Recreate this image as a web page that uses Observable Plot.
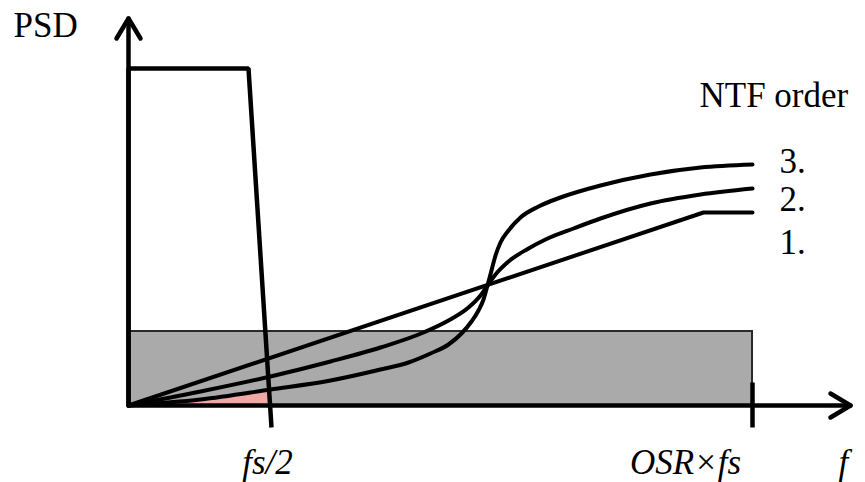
<!DOCTYPE html>
<html>
<head>
<meta charset="utf-8">
<script src="https://cdn.jsdelivr.net/npm/d3@7"></script>
<script src="https://cdn.jsdelivr.net/npm/@observablehq/plot@0.6"></script>
<style>
  html, body { margin: 0; padding: 0; background: #fff; }
  #chart svg { display: block; }
</style>
</head>
<body>
<div id="chart"></div>
<script>
// ---- schematic values (frequency units f, PSD units p; origin at axes crossing) ----
const fsHalf = 142;          // fs/2
const osrFs = 624;           // OSR×fs
const noiseFloor = 74;       // quantisation-noise floor level
const fMax = 722;            // end of f axis
const psdMax = 387;          // end of PSD axis

// signal band
const signalF   = [0, 0, 120, 143];
const signalPSD = [0, 337, 337, -22];

// NTF curves
const ntf1F   = [0, 575, 624];
const ntf1PSD = [0, 193, 193];
const ntf2F   = [0, 72, 142, 202, 252, 295, 320, 340, 352, 359, 367, 380, 400, 417, 445, 472, 522, 572, 624];
const ntf2PSD = [0, 14, 29, 44, 58, 73, 85, 98, 110, 120, 131, 144, 157, 166, 177, 187, 202, 211, 217];
const ntf3F   = [0, 72, 142, 202, 252, 280, 302, 320, 333, 343, 350, 355, 359, 363, 367, 372, 380, 392, 410, 432, 472, 522, 572, 624];
const ntf3PSD = [0, 6, 16, 25, 36, 43, 52, 61, 72, 84, 95, 106, 120, 135, 150, 163, 175, 188, 199, 208, 220, 231, 238, 241];

// labels
const orderLabels   = ["3.", "2.", "1."];
const orderLabelPSD = [233, 195, 152];
const xTickLabels   = ["fs/2", "OSR×fs"];
const xTickLabelPos = [139, 557];

// ---- build tables ----
const pts = (F, P) => F.map((f, i) => ({f, p: P[i]}));
const signal = pts(signalF, signalPSD);
const ntf1 = pts(ntf1F, ntf1PSD);
const ntf2 = pts(ntf2F, ntf2PSD);
const ntf3 = pts(ntf3F, ntf3PSD);
const inBand = ntf3.filter(d => d.f <= fsHalf);
const yAxisLine = [{f: 0, p: 0}, {f: 0, p: psdMax}];
const xAxisLine = [{f: 0, p: 0}, {f: fMax, p: 0}];
const yHead = [{f: -12, p: psdMax - 20}, {f: 0, p: psdMax}, {f: 12, p: psdMax - 20}];
const xHead = [{f: fMax - 20, p: 12}, {f: fMax, p: 0}, {f: fMax - 20, p: -12}];
const osrTick = [{f: osrFs, p: 23}, {f: osrFs, p: -22}];
const floorRect = [{x1: 0, x2: osrFs, y1: 0, y2: noiseFloor}];

const serif = "Liberation Serif";
const orderText = orderLabels.map((t, i) => ({f: 651, p: orderLabelPSD[i], t}));
const tickText = xTickLabels.map((t, i) => ({f: xTickLabelPos[i], p: -68, t}));

const lineOpts = {x: "f", y: "p", stroke: "black", strokeWidth: 4.5, strokeLinecap: "round", strokeLinejoin: "round"};
const textOpts = {x: "f", y: "p", text: "t", lineAnchor: "bottom", fontFamily: serif, fontSize: 35, fill: "black"};

const chart = Plot.plot({
  width: 865,
  height: 482,
  margin: 0,
  x: {domain: [-128, 737], axis: null},
  y: {domain: [-77, 405], axis: null},
  style: {background: "white", overflow: "visible"},
  marks: [
    Plot.rect(floorRect, {x1: "x1", x2: "x2", y1: "y1", y2: "y2", fill: "#aaaaaa", stroke: "#2a2a2a", strokeWidth: 2}),
    Plot.areaY(inBand, {x: "f", y: "p", fill: "#f2a7a7", curve: "monotone-x"}),
    Plot.line(ntf1, {...lineOpts, strokeWidth: 4}),
    Plot.line(ntf2, {...lineOpts, strokeWidth: 4, curve: "monotone-x"}),
    Plot.line(ntf3, {...lineOpts, strokeWidth: 4, curve: "monotone-x"}),
    Plot.line(signal, {...lineOpts, strokeLinejoin: "miter", strokeLinecap: "butt"}),
    Plot.line(osrTick, {...lineOpts, strokeLinecap: "butt"}),
    Plot.line(yAxisLine, lineOpts),
    Plot.line(xAxisLine, lineOpts),
    Plot.line(yHead, lineOpts),
    Plot.line(xHead, lineOpts),
    Plot.text([{f: -115, p: 369, t: "PSD"}], {...textOpts, textAnchor: "start"}),
    Plot.text([{f: 571, p: 299, t: "NTF order"}], {...textOpts, textAnchor: "start"}),
    Plot.text(orderText, {...textOpts, textAnchor: "start"}),
    Plot.text(tickText, {...textOpts, textAnchor: "middle", fontStyle: "italic"}),
    Plot.text([{f: 710, p: -68, t: "f"}], {...textOpts, textAnchor: "start", fontStyle: "italic"})
  ]
});
document.getElementById("chart").appendChild(chart);
</script>
</body>
</html>
